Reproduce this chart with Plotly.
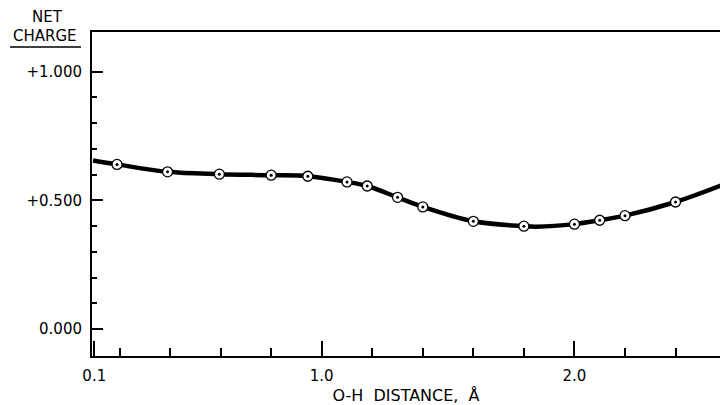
import plotly.graph_objects as go

# Data
distance = [0.19, 0.39, 0.595, 0.80, 0.945, 1.10, 1.18, 1.30, 1.40, 1.60, 1.80, 2.00, 2.10, 2.20, 2.40]
charge = [0.640, 0.611, 0.602, 0.598, 0.594, 0.572, 0.556, 0.512, 0.475, 0.419, 0.400, 0.408, 0.423, 0.441, 0.494]
# smooth curve drawn through the points, extending to the frame edges
curve_x = [0.095, 0.19, 0.39, 0.595, 0.80, 0.945, 1.10, 1.18, 1.30, 1.40, 1.60, 1.80, 1.85, 2.00, 2.10, 2.20, 2.40, 2.58]
curve_y = [0.655, 0.640, 0.611, 0.602, 0.598, 0.594, 0.572, 0.556, 0.512, 0.475, 0.419, 0.400, 0.398, 0.408, 0.423, 0.441, 0.494, 0.558]

x_ticks = [0.1, 1.0, 2.0]
x_tick_labels = ["0.1", "1.0", "2.0"]
x_minor = [0.2, 0.4, 0.6, 0.8, 1.2, 1.4, 1.6, 1.8, 2.2, 2.4]
y_ticks = [0.0, 0.5, 1.0]
y_tick_labels = ["0.000", "+0.500", "+1.000"]
y_minor = [0.1, 0.2, 0.3, 0.4, 0.6, 0.7, 0.8, 0.9]

FONT = "DejaVu Sans"

fig = go.Figure()
fig.add_trace(go.Scatter(x=curve_x, y=curve_y, mode="lines",
                         line=dict(color="black", width=4.5, shape="spline", smoothing=1.0),
                         hoverinfo="skip", showlegend=False))
fig.add_trace(go.Scatter(x=distance, y=charge, mode="markers",
                         marker=dict(symbol="circle", size=10, color="white",
                                     line=dict(color="black", width=1.3)),
                         showlegend=False))
fig.add_trace(go.Scatter(x=distance, y=charge, mode="markers",
                         marker=dict(symbol="circle", size=3, color="black", line=dict(width=0)),
                         hoverinfo="skip", showlegend=False))

fig.update_xaxes(range=[0.091, 2.576], showgrid=False, zeroline=False,
                 showline=True, linecolor="black", linewidth=2, mirror=True,
                 tickmode="array", tickvals=x_ticks, ticktext=x_tick_labels,
                 ticks="inside", ticklen=15, tickwidth=2, tickcolor="black",
                 minor=dict(tickmode="array", tickvals=x_minor, ticks="inside",
                            ticklen=8, tickwidth=2, tickcolor="black", showgrid=False),
                 tickfont=dict(family=FONT, size=15, color="black"), ticklabelstandoff=5,
                 title=dict(text="O-H  DISTANCE,  Å", font=dict(family=FONT, size=16, color="black"),
                            standoff=8))
fig.update_yaxes(range=[-0.104, 1.154], showgrid=False, zeroline=False,
                 showline=True, linecolor="black", linewidth=2,
                 tickmode="array", tickvals=y_ticks, ticktext=y_tick_labels,
                 ticks="inside", ticklen=11, tickwidth=2, tickcolor="black",
                 minor=dict(tickmode="array", tickvals=y_minor, ticks="inside",
                            ticklen=5, tickwidth=2, tickcolor="black", showgrid=False),
                 tickfont=dict(family=FONT, size=15, color="black"), ticklabelstandoff=5)

fig.add_annotation(text="NET", xref="paper", yref="paper", x=(47 - 92) / 628, y=(356 - 17) / 324,
                   showarrow=False, font=dict(family=FONT, size=15, color="black"), xanchor="center", yanchor="middle")
fig.add_annotation(text="CHARGE", xref="paper", yref="paper", x=(45 - 92) / 628, y=(356 - 36) / 324,
                   showarrow=False, font=dict(family=FONT, size=15, color="black"), xanchor="center", yanchor="middle")
fig.add_shape(type="line", xref="paper", yref="paper", x0=(10 - 92) / 628, x1=(81 - 92) / 628,
              y0=(356 - 47) / 324, y1=(356 - 47) / 324, line=dict(color="black", width=1.5))

fig.update_layout(width=720, height=405, margin=dict(l=92, r=0, t=32, b=49),
                  paper_bgcolor="white", plot_bgcolor="white", showlegend=False)

fig.write_html("out.html", config={"displayModeBar": False},
               post_script="document.body.style.margin='0';document.body.style.overflow='hidden';")
